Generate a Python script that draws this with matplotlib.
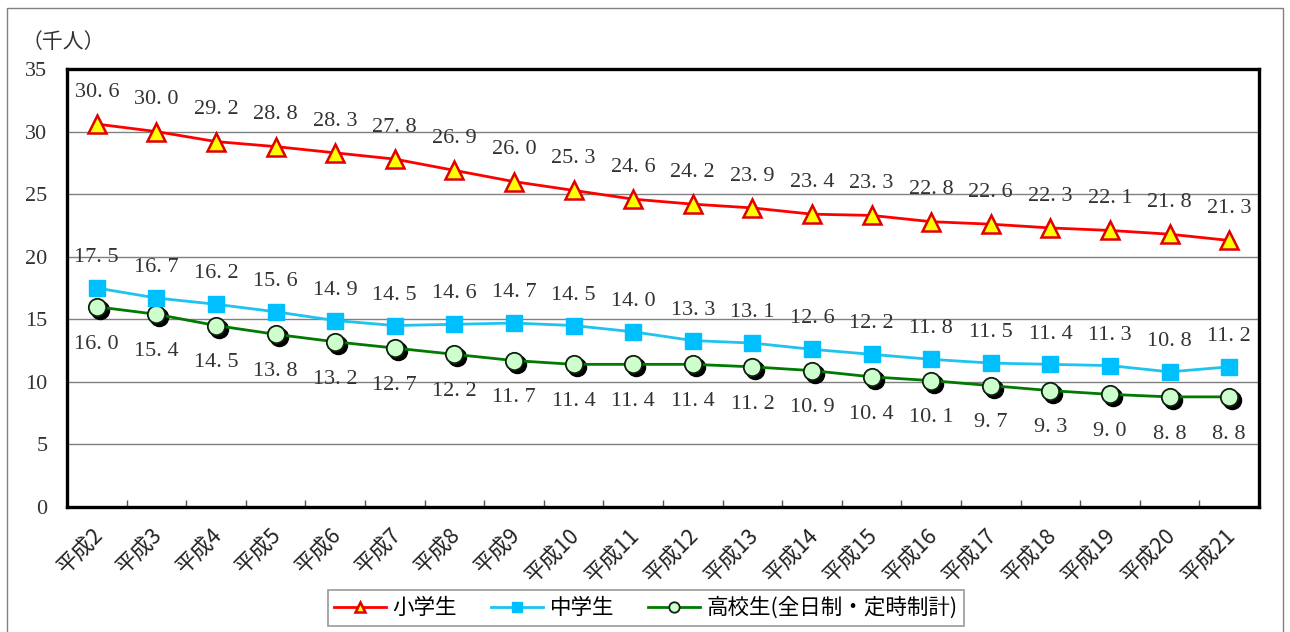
import matplotlib
matplotlib.use("Agg")
import matplotlib.pyplot as plt
from matplotlib.transforms import ScaledTranslation
from matplotlib.patches import Rectangle
import numpy as np

plt.rcParams['font.family'] = ['Noto Sans CJK JP', 'DejaVu Sans']

years = ["平成2", "平成3", "平成4", "平成5", "平成6", "平成7", "平成8", "平成9", "平成10",
         "平成11", "平成12", "平成13", "平成14", "平成15", "平成16", "平成17", "平成18",
         "平成19", "平成20", "平成21"]
elementary = [30.6, 30.0, 29.2, 28.8, 28.3, 27.8, 26.9, 26.0, 25.3, 24.6,
              24.2, 23.9, 23.4, 23.3, 22.8, 22.6, 22.3, 22.1, 21.8, 21.3]
junior_high = [17.5, 16.7, 16.2, 15.6, 14.9, 14.5, 14.6, 14.7, 14.5, 14.0,
               13.3, 13.1, 12.6, 12.2, 11.8, 11.5, 11.4, 11.3, 10.8, 11.2]
high_school = [16.0, 15.4, 14.5, 13.8, 13.2, 12.7, 12.2, 11.7, 11.4, 11.4,
               11.4, 11.2, 10.9, 10.4, 10.1, 9.7, 9.3, 9.0, 8.8, 8.8]
series_names = ["小学生", "中学生", "高校生(全日制・定時制計)"]
y_ticks = [0, 5, 10, 15, 20, 25, 30, 35]

num_font = 'Liberation Serif'

fig = plt.figure(figsize=(12.9, 6.32), dpi=100)
fig.patches.append(Rectangle((7 / 1290, -0.02), 1276 / 1290, 1 - 8 / 632 + 0.02,
                             transform=fig.transFigure, fill=False,
                             edgecolor='#808080', linewidth=1.0))
ax = fig.add_axes([67 / 1290, 1 - 507 / 632, (1259 - 67) / 1290, (507 - 69) / 632])

x = np.arange(len(years))

ax.plot(x, elementary, color='#FF0000', linewidth=2.0, marker='^', markersize=13,
        markerfacecolor='#FFFF00', markeredgecolor='#E00000', markeredgewidth=1.8,
        label=series_names[0], zorder=5)
ax.plot(x, junior_high, color='#1EC3EE', linewidth=2.0, marker='s', markersize=12,
        markerfacecolor='#00BFFF', markeredgecolor='#00BFFF', label=series_names[1], zorder=4)

shadow = ax.transData + ScaledTranslation(3 / 100, -3 / 100, fig.dpi_scale_trans)
ax.plot(x, high_school, linestyle='none', marker='o', markersize=13,
        markerfacecolor='black', markeredgecolor='black', transform=shadow, zorder=3)
ax.plot(x, high_school, color='#007A00', linewidth=2.0, marker='o', markersize=12.5,
        markerfacecolor='#CCFFCC', markeredgecolor='#102010', markeredgewidth=1.3,
        label=series_names[2], zorder=3.5)


def fmt(v):
    return f"{v:.1f}".replace('.', '. ')


for xi, v in zip(x, elementary):
    ax.annotate(fmt(v), (xi, v), xytext=(0, 16), textcoords='offset points',
                ha='center', va='bottom', fontsize=16, family=num_font, color='#333333')
for xi, v in zip(x, junior_high):
    ax.annotate(fmt(v), (xi, v), xytext=(0, 15), textcoords='offset points',
                ha='center', va='bottom', fontsize=16, family=num_font, color='#333333')
for xi, v in zip(x, high_school):
    ax.annotate(fmt(v), (xi, v), xytext=(0, -20), textcoords='offset points',
                ha='center', va='top', fontsize=16, family=num_font, color='#333333')

ax.set_xlim(-0.5, len(years) - 0.5)
ax.set_ylim(0, 35)
ax.set_yticks(y_ticks)
ax.set_yticklabels([str(t) for t in y_ticks], family=num_font, fontsize=16, color='#333333')
ax.tick_params(axis='y', length=0, pad=14)
ax.yaxis.grid(True, color='#808080', linewidth=1.0)
ax.set_axisbelow(True)

ax.set_xticks(x)
ax.set_xticklabels(years, rotation=45, ha='right', rotation_mode='anchor',
                   fontsize=15.5, color='#222222')
ax.tick_params(axis='x', which='major', length=0, pad=12)
label_shift = ScaledTranslation(-5 / 100, 0, fig.dpi_scale_trans)
for lbl in ax.get_xticklabels():
    lbl.set_transform(lbl.get_transform() + label_shift)
ax.set_xticks(np.arange(0.5, len(years) - 1, 1.0), minor=True)
ax.tick_params(axis='x', which='minor', direction='in', length=5, width=1, color='#555555')

for s in ax.spines.values():
    s.set_linewidth(2.4)
    s.set_color('black')

fig.text(22 / 1290, 1 - 42 / 632, "（千人）", fontsize=15, va='center', ha='left', color='#333333')

leg = fig.legend(loc='center', bbox_to_anchor=(646 / 1290, 1 - 608 / 632), ncol=3,
                 fontsize=15.5, frameon=True, fancybox=False, edgecolor='#808080',
                 handlelength=2.4, columnspacing=1.6, handletextpad=0.3,
                 borderpad=0.3, markerscale=0.6)
leg.get_frame().set_linewidth(1.2)

fig.savefig("out.png", dpi=100)
